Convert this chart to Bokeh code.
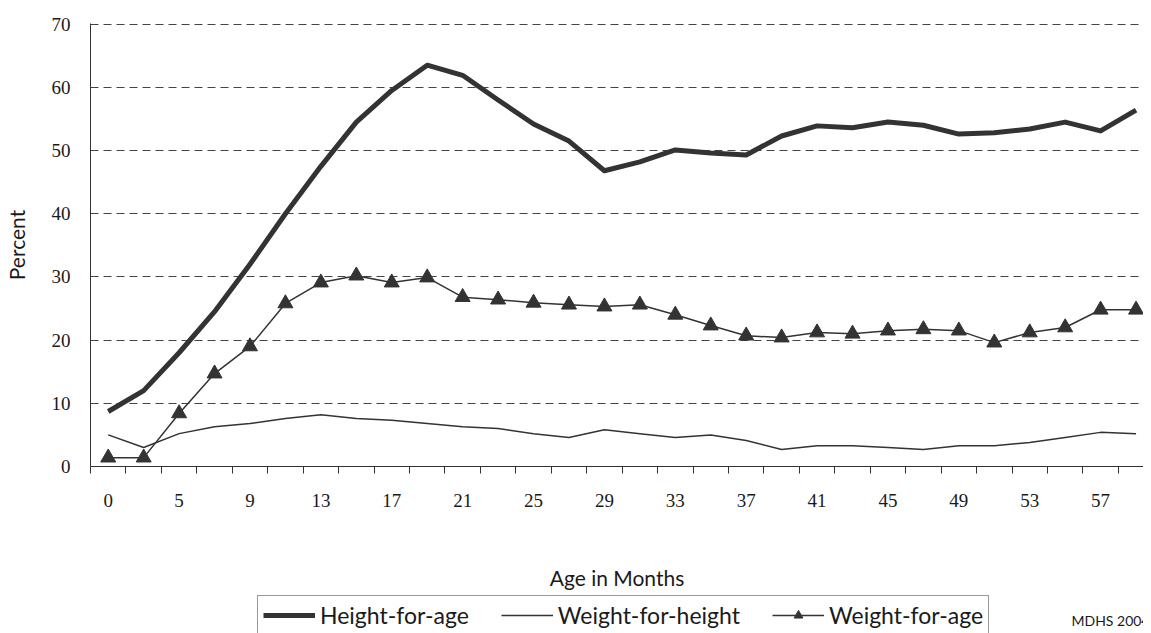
from bokeh.plotting import figure
from bokeh.models import (Range1d, FixedTicker, Legend, LegendItem, Label)
from bokeh.layouts import column
from bokeh.embed import file_html
from bokeh.resources import INLINE

# ---- data ----
ages = ["0", "3", "5", "7", "9", "11", "13", "15", "17", "19", "21", "23", "25", "27", "29",
        "31", "33", "35", "37", "39", "41", "43", "45", "47", "49", "51", "53", "55", "57", "59"]
height_for_age = [8.7, 12.0, 18.0, 24.5, 32.0, 40.0, 47.5, 54.5, 59.5, 63.5, 61.9, 58.0, 54.2,
                  51.5, 46.8, 48.2, 50.1, 49.6, 49.3, 52.3, 53.9, 53.6, 54.5, 54.0, 52.6, 52.8,
                  53.4, 54.5, 53.1, 56.4]
weight_for_height = [5.0, 3.0, 5.2, 6.3, 6.8, 7.6, 8.2, 7.6, 7.3, 6.8, 6.3, 6.0, 5.2, 4.6, 5.8,
                     5.2, 4.6, 5.0, 4.1, 2.7, 3.3, 3.3, 3.0, 2.7, 3.3, 3.3, 3.8, 4.6, 5.4, 5.2]
weight_for_age = [1.4, 1.4, 8.4, 14.7, 19.0, 25.8, 29.1, 30.2, 29.1, 29.9, 26.8, 26.4, 25.9,
                  25.6, 25.3, 25.6, 24.0, 22.3, 20.7, 20.4, 21.2, 21.0, 21.5, 21.7, 21.5, 19.6,
                  21.2, 22.0, 24.8, 24.8]
y_ticks = [0, 10, 20, 30, 40, 50, 60, 70]
series_names = ["Height-for-age", "Weight-for-height", "Weight-for-age"]
source_note = "MDHS 2004"

x = list(range(len(ages)))
INK = "#333333"
TXT = "#1a1a1a"
SANS = "Lato"
SERIF = "Liberation Serif"

p = figure(width=1143, height=593, x_range=Range1d(-0.5, 29.21), y_range=Range1d(0, 70.1),
           output_backend="svg", toolbar_location=None,
           min_border_left=81, min_border_right=0, min_border_top=23, min_border_bottom=127)
p.outline_line_color = None
p.background_fill_color = "white"
p.border_fill_color = "white"

# grid
p.xgrid.grid_line_color = None
p.ygrid.grid_line_color = "#444444"
p.ygrid.grid_line_dash = "8 5"
p.ygrid.grid_line_width = 1

# y axis
p.yaxis.ticker = FixedTicker(ticks=y_ticks)
p.yaxis.axis_line_color = INK
p.yaxis.axis_line_width = 1
p.yaxis.major_tick_line_color = None
p.yaxis.minor_tick_line_color = None
p.yaxis.major_label_text_font = SERIF
p.yaxis.major_label_text_font_size = "19px"
p.yaxis.major_label_text_color = TXT
p.yaxis.major_label_standoff = 14
p.yaxis.axis_label = "Percent"
p.yaxis.axis_label_text_font = SANS
p.yaxis.axis_label_text_font_style = "normal"
p.yaxis.axis_label_text_font_size = "21px"
p.yaxis.axis_label_text_color = TXT
p.yaxis.axis_label_standoff = 20

# x axis: labels at every second category centre, tick marks at category boundaries
p.xaxis.ticker = FixedTicker(ticks=x[::2], minor_ticks=[i - 0.5 for i in range(len(ages) + 1)])
p.xaxis.major_label_overrides = {i: ages[i] for i in x[::2]}
p.xaxis.axis_line_color = INK
p.xaxis.axis_line_width = 1
p.xaxis.major_tick_line_color = None
p.xaxis.major_tick_in = 0
p.xaxis.major_tick_out = 7
p.xaxis.minor_tick_line_color = INK
p.xaxis.minor_tick_in = 0
p.xaxis.minor_tick_out = 7
p.xaxis.major_label_text_font = SERIF
p.xaxis.major_label_text_font_size = "19px"
p.xaxis.major_label_text_color = TXT
p.xaxis.major_label_standoff = 20
p.xaxis.axis_label = "Age in Months"
p.xaxis.axis_label_text_font = SANS
p.xaxis.axis_label_text_font_style = "normal"
p.xaxis.axis_label_text_font_size = "21px"
p.xaxis.axis_label_text_color = TXT
p.xaxis.axis_label_standoff = 55

# series
p.line(x, height_for_age, line_color=INK, line_width=5, line_join="round")
p.line(x, weight_for_height, line_color=INK, line_width=1.5)
p.line(x, weight_for_age, line_color=INK, line_width=1.5)
p.scatter(x, weight_for_age, marker="triangle", size=15, fill_color=INK, line_color=INK)

# ---- legend strip: same series drawn again, kept out of view, only for the legend ----
q = figure(width=1143, height=40, x_range=Range1d(0, 1), y_range=Range1d(-2, -1),
           output_backend="svg", toolbar_location=None,
           min_border_left=0, min_border_right=0, min_border_top=0, min_border_bottom=0)
q.axis.visible = False
q.grid.visible = False
q.outline_line_color = None
q.background_fill_color = "white"
q.border_fill_color = "white"
g1 = q.line(x, height_for_age, line_color=INK, line_width=5)
g2 = q.line(x, weight_for_height, line_color=INK, line_width=1.5)
g3 = q.line(x, weight_for_age, line_color=INK, line_width=1.5)
g3m = q.scatter(x, weight_for_age, marker="triangle", size=15, fill_color=INK, line_color=INK)

legend = Legend(items=[LegendItem(label=series_names[0], renderers=[g1]),
                       LegendItem(label=series_names[1], renderers=[g2]),
                       LegendItem(label=series_names[2], renderers=[g3, g3m])],
                orientation="horizontal", location=(167, -2), margin=0,
                padding=5, spacing=32, glyph_width=52, glyph_height=22,
                label_standoff=5, label_text_font=SANS, label_text_font_size="23px",
                label_text_color=TXT, label_height=28,
                border_line_color=INK, border_line_width=1,
                background_fill_color="white", background_fill_alpha=1)
q.add_layout(legend, "center")

note = Label(x=981, y=5, x_units="screen", y_units="screen", text=source_note,
             text_font=SANS, text_font_size="14px", text_color=TXT)
q.add_layout(note)

layout = column(p, q, spacing=0)
open("out.html", "w").write(file_html(layout, INLINE))
